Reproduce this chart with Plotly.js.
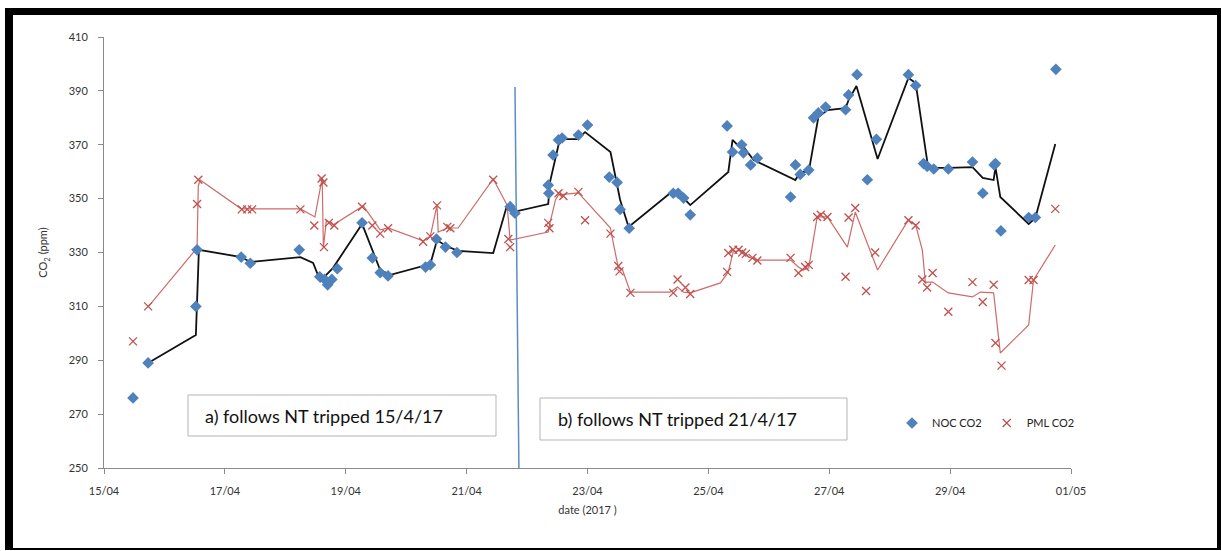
<!DOCTYPE html>
<html>
<head>
<meta charset="utf-8">
<script src="https://cdn.plot.ly/plotly-3.0.1.min.js"></script>
<style>
  html, body { margin:0; padding:0; background:#fff; }
  #chart { width:1221px; height:551px; position:absolute; left:0; top:0; }
  #frame { position:absolute; left:5px; top:8px; width:1216px; height:542px; box-sizing:border-box;
           border-style:solid; border-color:#000; border-width:7px 4px 2px 8px; pointer-events:none; }
</style>
</head>
<body>
<div id="chart"></div>
<div id="frame"></div>
<script>
// Day-of-April (decimal) for each sample, 2017
const nocDay = [15.48,15.73,16.52,16.54,17.27,17.42,18.23,18.57,18.65,18.70,18.77,18.86,19.27,19.44,19.57,19.70,
  20.32,20.40,20.50,20.65,20.84,21.72,21.80,22.35,22.36,22.43,22.52,22.58,22.85,23.00,23.36,23.49,23.54,23.69,
  24.42,24.50,24.59,24.70,25.31,25.40,25.55,25.58,25.70,25.81,26.36,26.44,26.52,26.66,26.74,26.82,26.94,
  27.27,27.32,27.46,27.63,27.78,28.31,28.43,28.56,28.62,28.73,28.97,29.37,29.54,29.73,29.75,29.84,30.30,30.41,30.75];
const nocCO2 = [276,289,310,331,328.3,326,331,321,320,318,320,324,341,328,322.5,321.3,
  324.6,325.4,335,332,330,347,344.6,355,352,366.2,371.8,372.5,373.6,377.3,358,356,346,339,
  352,352,350.2,344,377,367.3,370,367,362.5,365,350.6,362.5,359,360.6,380,381.8,384,
  383,388.5,396,357,372,396,392,363,362,361,361,363.6,352,362.5,363,338,343,343,398];

const pmlDay = [15.48,15.73,16.54,16.56,17.28,17.37,17.45,18.25,18.48,18.60,18.63,18.64,18.72,18.81,19.27,19.44,19.57,19.70,
  20.28,20.40,20.51,20.68,20.73,21.44,21.69,21.72,22.35,22.37,22.52,22.60,22.85,22.96,23.38,23.51,23.53,23.71,
  24.42,24.49,24.62,24.70,25.31,25.33,25.41,25.50,25.56,25.62,25.73,25.81,26.36,26.49,26.60,26.66,26.80,26.86,26.97,
  27.27,27.32,27.43,27.61,27.76,28.31,28.43,28.54,28.62,28.71,28.97,29.37,29.54,29.72,29.75,29.85,30.30,30.38,30.74];
const pmlCO2 = [297,310,348,357,346,346,346,346,340,357.5,356,332,341,340,347,340,337,339,
  334,336,347.5,339.5,339,357,335,332,341,339,352,351,352.5,342,337,325,323,315,
  315,320,317,314.6,322.8,329.8,331,331,330,329.5,328,327,328,322.4,324.6,325.4,343.2,344,343.2,
  321,343,346.5,315.7,330,342,340,320,317,322.4,308,319,311.6,318,296.4,288,319.8,319.8,346.2];

// Smoothed (trend) lines as drawn in the chart
const nocLineDay = [15.73,16.52,16.57,17.27,17.42,18.25,18.46,18.58,18.69,18.79,19.27,19.57,19.74,20.31,20.40,20.51,20.66,20.86,
  21.44,21.67,21.84,22.35,22.38,22.52,22.60,22.83,22.96,23.38,23.54,23.68,24.37,24.49,24.59,24.70,25.33,25.40,25.53,25.58,
  25.75,26.44,26.52,26.66,26.82,26.97,27.27,27.32,27.45,27.80,28.31,28.43,28.51,28.63,28.73,28.97,29.37,29.54,29.72,29.75,
  29.83,30.30,30.41,30.74];
const nocLineCO2 = [289,299.4,331,328.3,326.5,328.3,326.1,319.4,322,324.3,340.6,323.5,321.7,325,325.7,334.6,332.4,330.6,
  329.8,347.6,345.4,348,356.2,369.9,372.1,372.1,374.7,367.3,349.5,339.5,352.1,351.4,350.2,347.6,359.9,371.8,368.8,369.2,
  364.3,356.9,359.9,359.9,380.3,382.9,383.6,386.6,391.8,364.7,394.8,392.9,380.3,362.5,361.4,361.4,361.7,357.7,356.9,361.7,
  350.6,340.6,342.8,370.3];

const pmlLineDay = [15.73,16.54,16.56,16.59,17.27,18.25,18.49,18.61,18.63,18.68,18.79,19.29,19.57,19.70,20.28,20.40,20.51,20.53,
  20.68,20.86,21.44,21.67,21.72,22.35,22.38,22.47,22.52,22.85,22.88,23.38,23.41,23.51,23.58,23.71,24.37,24.49,24.59,24.70,
  25.20,25.33,25.41,25.53,25.66,25.81,26.36,26.49,26.57,26.66,26.80,26.97,27.30,27.43,27.80,28.31,28.43,28.54,28.59,28.71,
  28.97,29.37,29.50,29.72,29.83,30.30,30.38,30.74];
const pmlLineCO2 = [309.8,331.7,354.7,356.9,346.2,346.2,343.2,357.7,331.7,342.1,340.2,347.3,338.4,339.1,334.3,336.1,347.6,337.6,
  339.1,339.1,357.3,347.6,334.6,337.6,341,349.5,351.4,352.1,351.4,339.1,335.4,324.3,323.5,315.3,315.3,317.2,315.3,315,
  318.7,322.8,330.2,330.9,328.3,327.2,327.2,324.6,323.5,324.3,343.2,343.2,332,345,323.5,342.1,340.2,330.9,319,319,
  315,313.5,315.3,315,292.7,303.1,319.8,332.8];

// Vertical marker line (hand-drawn separator) and labels
const sepDay = [21.80, 21.865];
const sepCO2 = [391.4, 250];
const boxLabels = ['a) follows NT tripped 15/4/17', 'b) follows NT tripped 21/4/17'];
const seriesNames = ['NOC CO2', 'PML CO2'];

function toDate(d) {
  const ms = Date.UTC(2017, 3, 1) + (d - 1) * 86400000;
  return new Date(ms).toISOString().slice(0, 19).replace('T', ' ');
}
const D = arr => arr.map(toDate);

const font = 'Lato, "Liberation Sans", Arial, sans-serif';
const blue = '#4f81bd';
const red = '#c0504d';

const traces = [
  { x: D(nocLineDay), y: nocLineCO2, mode: 'lines', line: { color: '#111', width: 1.8 }, showlegend: false, hoverinfo: 'skip' },
  { x: D(pmlLineDay), y: pmlLineCO2, mode: 'lines', line: { color: '#cd6b68', width: 1.2 }, showlegend: false, hoverinfo: 'skip' },
  { x: D(nocDay), y: nocCO2, mode: 'markers', name: seriesNames[0],
    marker: { symbol: 'diamond', size: 9, color: blue } },
  { x: D(pmlDay), y: pmlCO2, mode: 'markers', name: seriesNames[1],
    marker: { symbol: 'x-thin-open', size: 8, color: red, line: { color: red, width: 1.3 } } }
];

const px = v => (v - 104) / (1071 - 104);
const py = v => (468 - v) / (468 - 37);

const layout = {
  width: 1221, height: 551,
  margin: { l: 104, r: 150, t: 37, b: 83 },
  paper_bgcolor: '#fff', plot_bgcolor: '#fff',
  font: { family: font, size: 11, color: '#333' },
  showlegend: true,
  legend: { orientation: 'h', x: px(892), y: py(423), xanchor: 'left', yanchor: 'middle',
            font: { family: font, size: 11, color: '#222' }, itemwidth: 30, bgcolor: 'rgba(0,0,0,0)' },
  xaxis: {
    type: 'date', range: ['2017-04-15', '2017-05-01'],
    tick0: '2017-04-15', dtick: 2 * 86400000, tickformat: '%d/%m',
    showgrid: false, zeroline: false,
    showline: true, linecolor: '#8a8a8a', linewidth: 1,
    ticks: 'outside', ticklen: 5, tickcolor: '#8a8a8a', ticklabelstandoff: 8,
    tickfont: { family: font, size: 11, color: '#333' },
    title: { text: 'date (2017 )', font: { family: font, size: 11, color: '#333' }, standoff: 10 }
  },
  yaxis: {
    range: [250, 410], dtick: 20, tick0: 250,
    showgrid: false, zeroline: false,
    showline: true, linecolor: '#8a8a8a', linewidth: 1,
    ticks: 'outside', ticklen: 5, tickcolor: '#8a8a8a', ticklabelstandoff: 8,
    tickfont: { family: font, size: 11, color: '#333' },
    title: { text: 'CO<sub>2</sub> (ppm)', font: { family: font, size: 11, color: '#333' }, standoff: 18 }
  },
  shapes: [
    { type: 'line', xref: 'x', yref: 'y', x0: toDate(sepDay[0]), y0: sepCO2[0], x1: toDate(sepDay[1]), y1: sepCO2[1],
      line: { color: '#5b8cc8', width: 1.5 } },
    { type: 'rect', xref: 'paper', yref: 'paper', x0: px(188), x1: px(496), y0: py(436), y1: py(395),
      line: { color: '#b5b5b5', width: 1 }, fillcolor: '#fff', layer: 'below' },
    { type: 'rect', xref: 'paper', yref: 'paper', x0: px(540), x1: px(847), y0: py(440), y1: py(398),
      line: { color: '#b5b5b5', width: 1 }, fillcolor: '#fff', layer: 'below' }
  ],
  annotations: [
    { xref: 'paper', yref: 'paper', x: px(203), y: py(415.5), xanchor: 'left', yanchor: 'middle', showarrow: false,
      text: boxLabels[0], font: { family: font, size: 18, color: '#111' } },
    { xref: 'paper', yref: 'paper', x: px(556), y: py(419), xanchor: 'left', yanchor: 'middle', showarrow: false,
      text: boxLabels[1], font: { family: font, size: 18, color: '#111' } }
  ]
};

Plotly.newPlot('chart', traces, layout, { displayModeBar: false, staticPlot: true });
</script>
</body>
</html>
